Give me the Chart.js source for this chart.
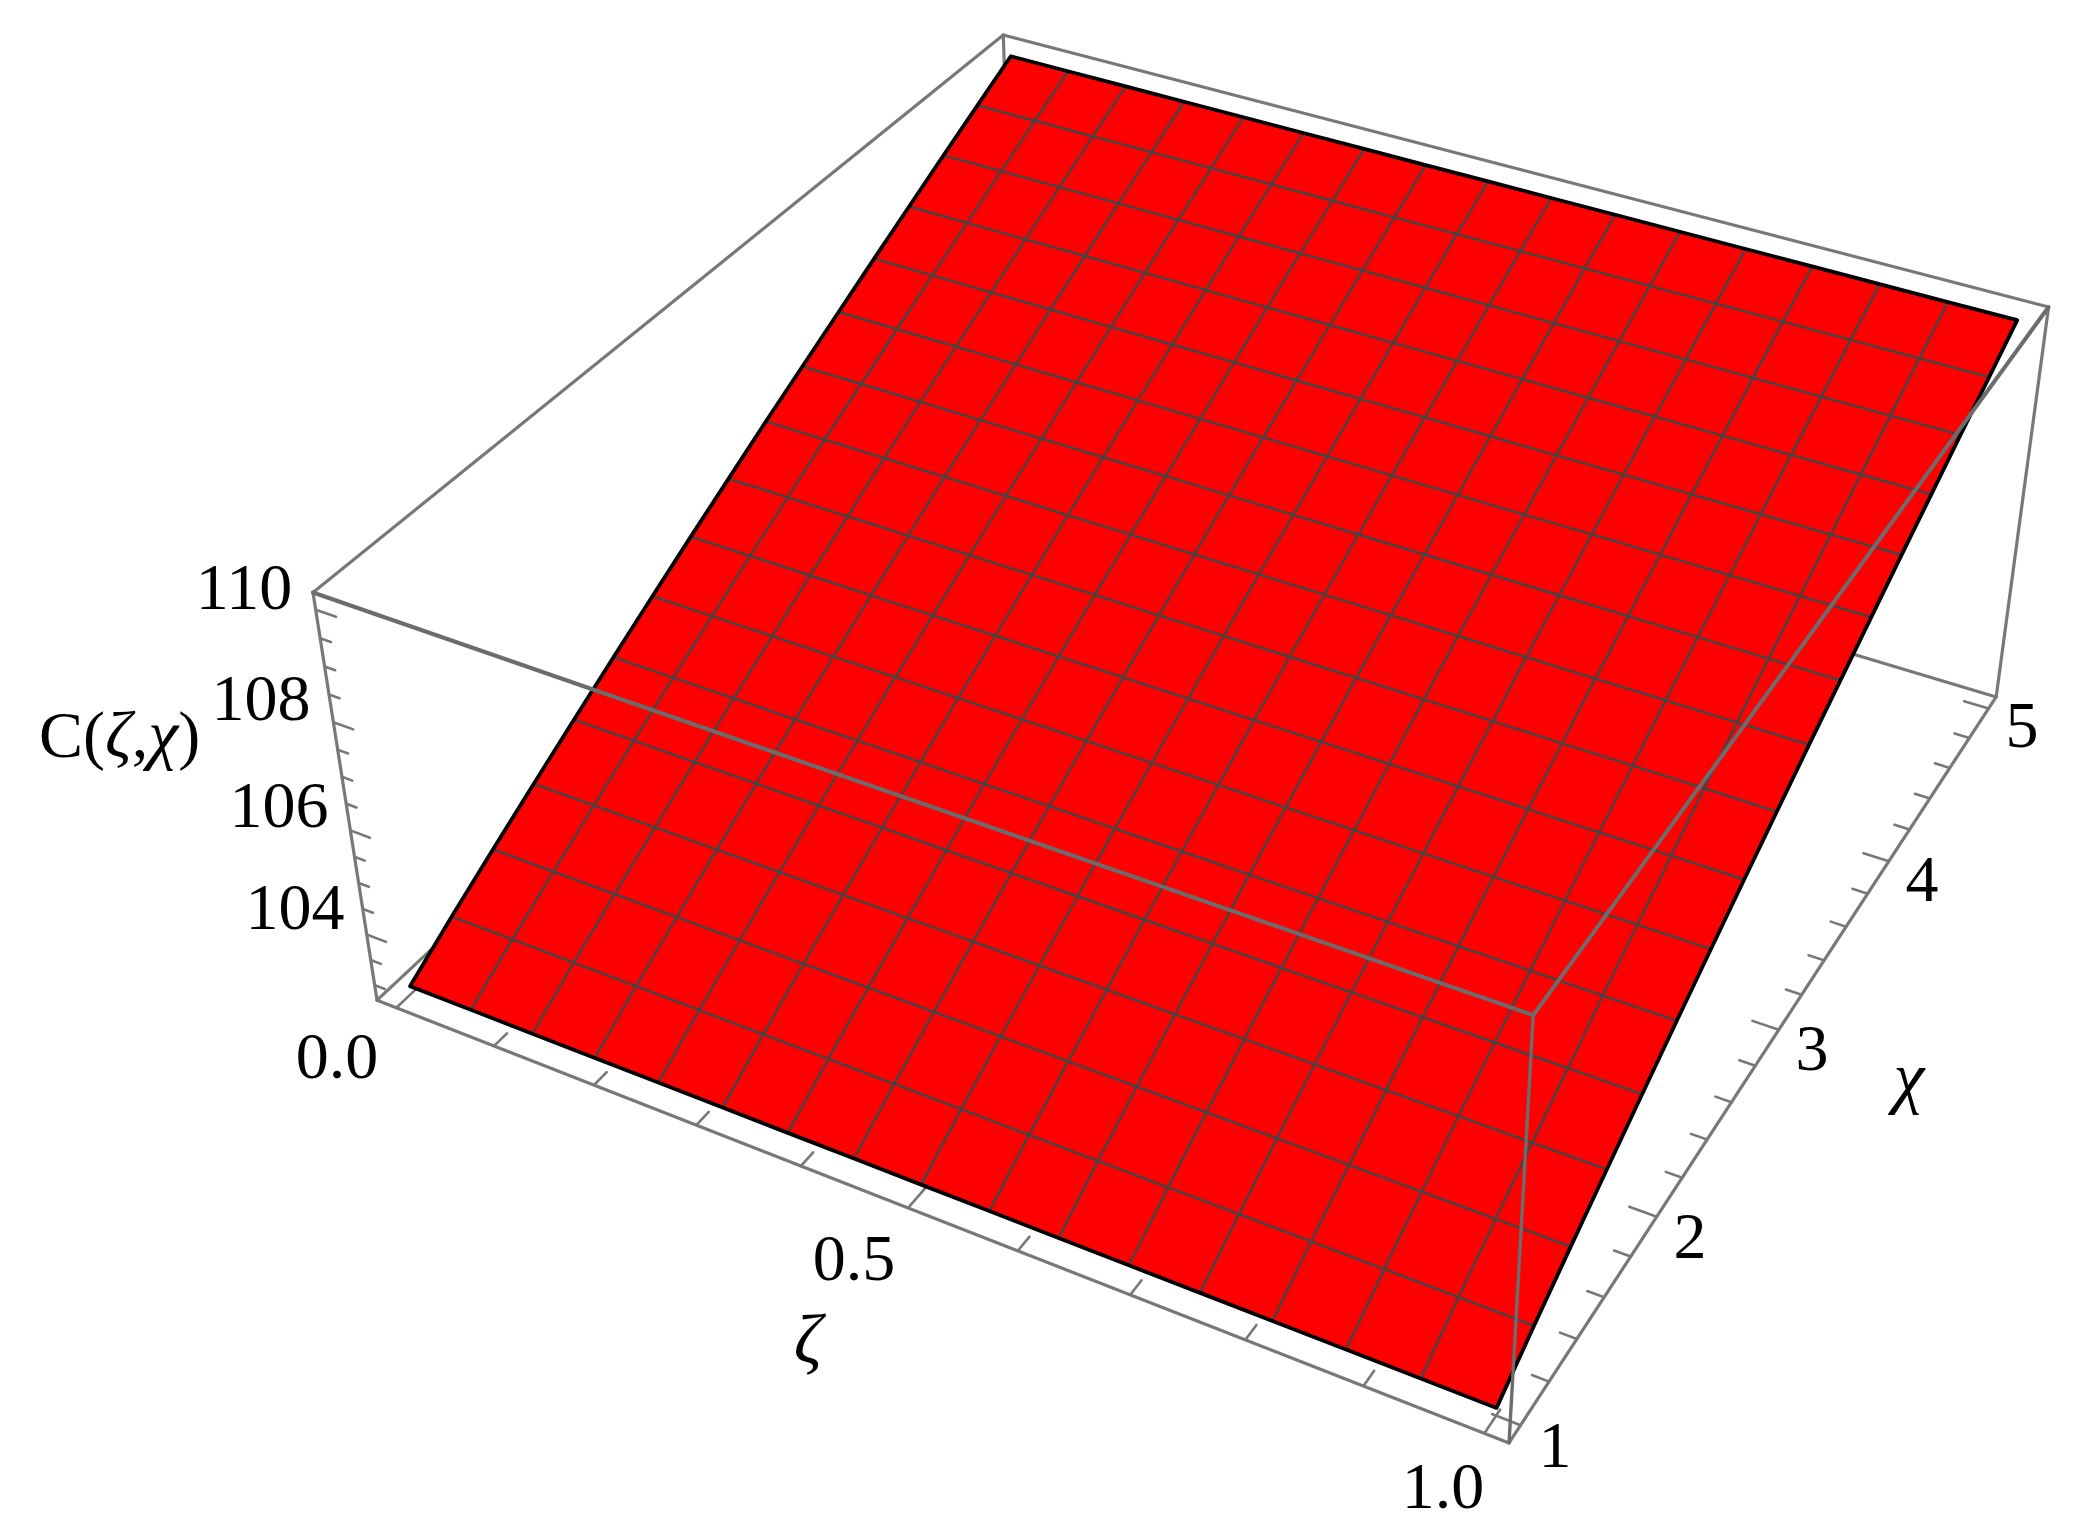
<!DOCTYPE html>
<html>
<head>
<meta charset="utf-8">
<title>C(ζ,χ) surface</title>
<script src="https://cdn.jsdelivr.net/npm/chart.js@4"></script>
<style>
html,body{margin:0;padding:0;background:#fff;overflow:hidden}
canvas{display:block}
</style>
</head>
<body>
<canvas id="c" width="2088" height="1535"></canvas>
<script>
// ---------- data ----------
const zetaMesh = [0,0.0625,0.125,0.1875,0.25,0.3125,0.375,0.4375,0.5,0.5625,0.625,0.6875,0.75,0.8125,0.875,0.9375,1];
const chiMesh = [1,1.25,1.5,1.75,2,2.25,2.5,2.75,3,3.25,3.5,3.75,4,4.25,4.5,4.75,5];
const cValues = [102.85,103.39,103.90,104.40,104.89,105.37,105.84,106.30,106.75,107.20,107.63,108.06,108.49,108.91,109.33,109.74,110.15];
const zetaTicks = [0,0.1,0.2,0.3,0.4,0.5,0.6,0.7,0.8,0.9,1];
const zetaMajor = [0,0.5,1];
const chiTicks = [1,1.2,1.4,1.6,1.8,2,2.2,2.4,2.6,2.8,3,3.2,3.4,3.6,3.8,4,4.2,4.4,4.6,4.8,5];
const chiMajor = [1,2,3,4,5];
const cTicks = [103,103.5,104,104.5,105,105.5,106,106.5,107,107.5,108,108.5,109,109.5,110];
const cMajor = [104,106,108,110];
const zetaTickLabels = ["0.0","0.5","1.0"];
const chiTickLabels = ["1","2","3","4","5"];
const cTickLabels = ["104","106","108","110"];

// ---------- plot box and camera ----------
const zetaRange = [-0.02,1.02], chiRange = [0.92,5.08], cRange = [102.7,110.3];
// screen anchors of the seven visible box corners: [u,v,w,x,y]
const anchors = [
  [0,0,0,377,1000],[1,0,0,1509.3,1443],[1,1,0,1996,697],
  [0,0,1,313,592.7],[1,0,1,1533,1015],[1,1,1,2048.7,307],[0,1,1,1003.3,35]
];
function solve(A,b){
  const n=b.length,M=A.map((r,i)=>[...r,b[i]]);
  for(let i=0;i<n;i++){
    let p=i;for(let k=i+1;k<n;k++)if(Math.abs(M[k][i])>Math.abs(M[p][i]))p=k;
    [M[i],M[p]]=[M[p],M[i]];
    for(let k=0;k<n;k++){if(k===i)continue;const f=M[k][i]/M[i][i];for(let j=i;j<=n;j++)M[k][j]-=f*M[i][j];}
  }
  return M.map((r,i)=>r[n]/r[i]);
}
function fitCamera(){
  const rows=[],rhs=[];
  anchors.forEach(([u,v,w,x,y])=>{
    const X=x/1000,Y=y/1000;
    rows.push([1,u,v,w,0,0,0,0,-X*u,-X*v,-X*w]);rhs.push(X);
    rows.push([0,0,0,0,1,u,v,w,-Y*u,-Y*v,-Y*w]);rhs.push(Y);
  });
  const N=11,AtA=Array.from({length:N},()=>Array(N).fill(0)),Atb=Array(N).fill(0);
  rows.forEach((r,k)=>{for(let i=0;i<N;i++){Atb[i]+=r[i]*rhs[k];for(let j=0;j<N;j++)AtA[i][j]+=r[i]*r[j];}});
  return solve(AtA,Atb);
}
const cam=fitCamera();
function project(zeta,chi,c){
  const u=(zeta-zetaRange[0])/(zetaRange[1]-zetaRange[0]);
  const v=(chi-chiRange[0])/(chiRange[1]-chiRange[0]);
  const w=(c-cRange[0])/(cRange[1]-cRange[0]);
  const d=1+cam[8]*u+cam[9]*v+cam[10]*w;
  return {x:1000*(cam[0]+cam[1]*u+cam[2]*v+cam[3]*w)/d,y:1000*(cam[4]+cam[5]*u+cam[6]*v+cam[7]*w)/d};
}

// ---------- datasets in paint order ----------
const zLo=zetaRange[0],zHi=zetaRange[1],xLo=chiRange[0],xHi=chiRange[1],cLo=cRange[0],cHi=cRange[1];
const BOX='#787878',MESH='#3f4646',OVER='#6c6c6c';
const paint=[];
function line(pts,color,width,extra){paint.push(Object.assign({data:pts,borderColor:color,borderWidth:width,backgroundColor:color,fill:false,showLine:true,pointRadius:0,tension:0,clip:false,borderCapStyle:'round',borderJoinStyle:'round'},extra||{}));}
const edge=(a,b,color,width)=>line([project(...a),project(...b)],color||BOX,width||3.2);

// edges behind the surface
edge([zLo,xLo,cLo],[zLo,xHi,cLo]);
edge([zLo,xHi,cLo],[zHi,xHi,cLo]);
edge([zLo,xHi,cLo],[zLo,xHi,cHi]);
// edges of the box that stand clear of the surface
edge([zLo,xLo,cHi],[zLo,xHi,cHi]);
edge([zLo,xHi,cHi],[zHi,xHi,cHi]);
edge([zHi,xHi,cHi],[zHi,xHi,cLo]);
edge([zLo,xLo,cHi],[zLo,xLo,cLo]);
edge([zLo,xLo,cLo],[zHi,xLo,cLo]);
edge([zHi,xLo,cLo],[zHi,xHi,cLo]);

// ticks
const ZF=zHi-zLo,XF=xHi-xLo;
zetaTicks.forEach(t=>{const L=zetaMajor.includes(t)?0.026:0.017;edge([t,xLo,cLo],[t,xLo+L*XF,cLo],BOX,2.6);});
chiTicks.forEach(t=>{const L=chiMajor.includes(t)?0.0225:0.0135;edge([zHi,t,cLo],[zHi-L*ZF,t,cLo],BOX,2.6);});
cTicks.forEach(t=>{const L=cMajor.includes(t)?0.019:0.01;edge([zLo,xLo,t],[zLo+L*ZF,xLo,t],BOX,2.6);});

// surface
const last=zetaMesh.length-1;
const outline=[];
zetaMesh.forEach(z=>outline.push(project(z,chiMesh[0],cValues[0])));
chiMesh.forEach((x,j)=>outline.push(project(zetaMesh[last],x,cValues[j])));
zetaMesh.slice().reverse().forEach(z=>outline.push(project(z,chiMesh[last],cValues[last])));
chiMesh.slice().reverse().forEach((x,j)=>outline.push(project(zetaMesh[0],x,cValues[last-j])));
line(outline,'#000000',0.01,{fill:'shape',backgroundColor:'#ff0000'});
// mesh
chiMesh.forEach((x,j)=>{if(j>0&&j<last)line(zetaMesh.map(z=>project(z,x,cValues[j])),MESH,2.4);});
zetaMesh.forEach((z,i)=>{if(i>0&&i<last)line(chiMesh.map((x,j)=>project(z,x,cValues[j])),MESH,2.4);});
// surface border
line(outline,'#000000',3.8);

// front edges seen across the surface
edge([zLo,xLo,cHi],[zHi,xLo,cHi],OVER,4);
edge([zHi,xLo,cHi],[zHi,xHi,cHi],OVER,4);
edge([zHi,xLo,cHi],[zHi,xLo,cLo],OVER,3.4);

const datasets=paint.map((d,i)=>Object.assign(d,{order:paint.length-i}));

// ---------- text ----------
const SERIF='"Liberation Serif","Times New Roman",serif';
const TICK_PX=66;
const textPlaces=[
  [cTickLabels[3],244,587],[cTickLabels[2],261,698],[cTickLabels[1],279,805],[cTickLabels[0],295,907],
  [zetaTickLabels[0],337,1056],[zetaTickLabels[1],854,1258],[zetaTickLabels[2],1443,1486],
  [chiTickLabels[0],1555,1445],[chiTickLabels[1],1690,1236],[chiTickLabels[2],1812,1048],[chiTickLabels[3],1922,879],[chiTickLabels[4],2022,725]
];
const textPlugin={
  id:'plotText',
  afterDraw(chart){
    const {ctx,scales:{x,y}}=chart;
    const px=v=>x.getPixelForValue(v),py=v=>y.getPixelForValue(v);
    ctx.save();
    ctx.fillStyle='#000';ctx.textAlign='center';ctx.textBaseline='alphabetic';
    ctx.font=TICK_PX+'px '+SERIF;
    textPlaces.forEach(([s,a,b])=>ctx.fillText(s,px(a),py(b)+0.34*TICK_PX));
    ctx.font='italic 70px '+SERIF;
    ctx.fillText('ζ',px(808),py(1345)+18);
    ctx.font='italic 70px '+SERIF;
    ctx.fillText('χ',px(1909),py(1086)+14);
    // C(ζ,χ) axis title, set piece by piece
    const parts=[['C(',false,66],['ζ',true,66],[',',false,66],['χ',true,68],[')',false,66]];
    ctx.textAlign='left';
    let cx=px(39);const cy=py(736)+21;
    parts.forEach(([s,it,size])=>{ctx.font=(it?'italic ':'')+size+'px '+SERIF;ctx.fillText(s,cx,cy);cx+=ctx.measureText(s).width;});
    ctx.restore();
  }
};

new Chart(document.getElementById('c'),{
  type:'scatter',
  data:{datasets},
  options:{
    responsive:false,animation:false,devicePixelRatio:1,
    layout:{padding:0},
    plugins:{legend:{display:false},tooltip:{enabled:false},title:{display:false}},
    events:[],
    scales:{
      x:{type:'linear',min:0,max:2088,display:false},
      y:{type:'linear',min:0,max:1535,reverse:true,display:false}
    }
  },
  plugins:[textPlugin]
});
</script>
</body>
</html>
